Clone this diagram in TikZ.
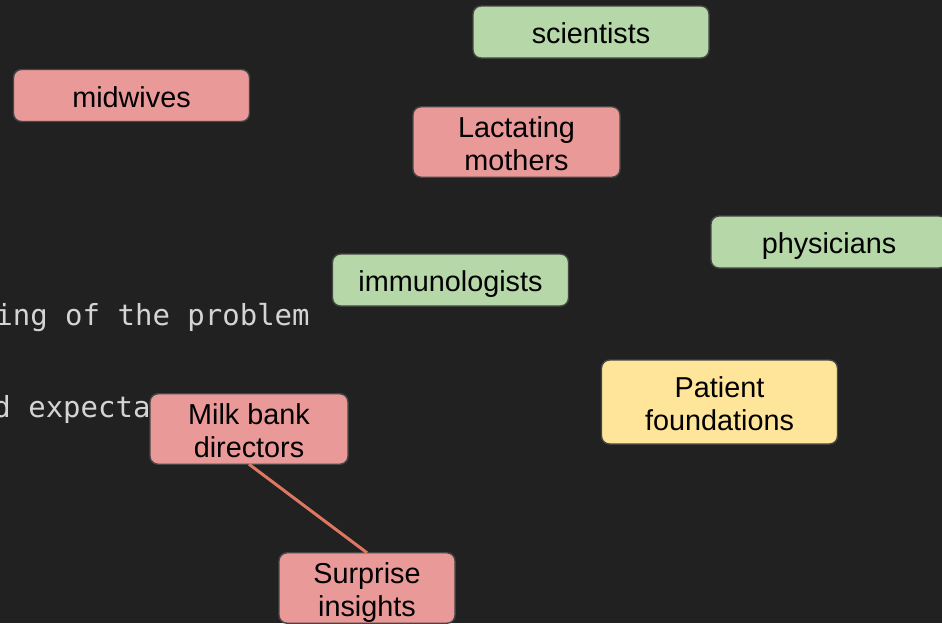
\documentclass[tikz,border=0pt]{standalone}
\usepackage{fontspec}
\setmainfont{Liberation Sans}
\setmonofont{DejaVu Sans Mono}
\usepackage{xcolor}
\usetikzlibrary{positioning}
\definecolor{bgdark}{RGB}{33,33,33}
\definecolor{rolepink}{RGB}{234,153,153}
\definecolor{rolegreen}{RGB}{182,215,168}
\definecolor{roleyellow}{RGB}{255,229,153}
\definecolor{linkorange}{RGB}{221,119,97}
\definecolor{codegrey}{RGB}{212,212,212}
\definecolor{boxline}{RGB}{70,70,70}
% struts so that every label sits on the same baseline
\newcommand{\topstrut}{\rule{0pt}{1.05em}}
\newcommand{\botstrut}{\rule[-0.25em]{0pt}{0.25em}}

\begin{document}
\begin{tikzpicture}[
    x=0.5pt, y=-0.5pt,
    actor/.style={rectangle, draw=boxline, line width=0.7pt, rounded corners=4pt,
        inner sep=0pt, outer sep=0pt, align=center, text=black,
        font=\fontsize{14.4pt}{16.5pt}\selectfont,
        minimum width=118pt, minimum height=26pt},
    codeline/.style={anchor=base west, inner sep=0pt, text=codegrey,
        font=\ttfamily\fontsize{14.5pt}{17pt}\selectfont},
    link/.style={draw=linkorange, line width=1.5pt}
]
\fill[bgdark] (0,0) rectangle (942,623);
\clip (0,0) rectangle (942,623);

% text behind the boxes
\node[codeline] (probline) at (-5,325) {ing of the problem};
\node[codeline] (expline) at (-7,417) {d expecta};

% stakeholders
\node[actor, fill=rolegreen] (scientists) at (591,32) {\topstrut scientists\botstrut};
\node[actor, fill=rolepink] (midwives) at (131.5,95.5) {\topstrut midwives\botstrut};
\node[actor, fill=rolepink, minimum width=103.5pt, minimum height=35pt] (mothers) at (516.5,142) {\topstrut Lactating\\mothers\botstrut};
\node[actor, fill=rolegreen] (physicians) at (829,242) {\topstrut physicians\botstrut};
\node[actor, fill=rolegreen] (immuno) at (450.5,280) {\topstrut immunologists\botstrut};
\node[actor, fill=roleyellow, minimum height=42pt] (patients) at (719.5,402) {\topstrut Patient\\foundations\botstrut};
\node[actor, fill=rolepink, minimum width=99pt, minimum height=34pt] (milkbank) at (249,429) {\topstrut Milk bank\\directors\botstrut};
\node[actor, fill=rolepink, minimum width=88pt, minimum height=35pt] (surprise) at (367,588) {\topstrut Surprise\\insights\botstrut};

\draw[link] (milkbank.south) -- (surprise.north);
\end{tikzpicture}
\end{document}
